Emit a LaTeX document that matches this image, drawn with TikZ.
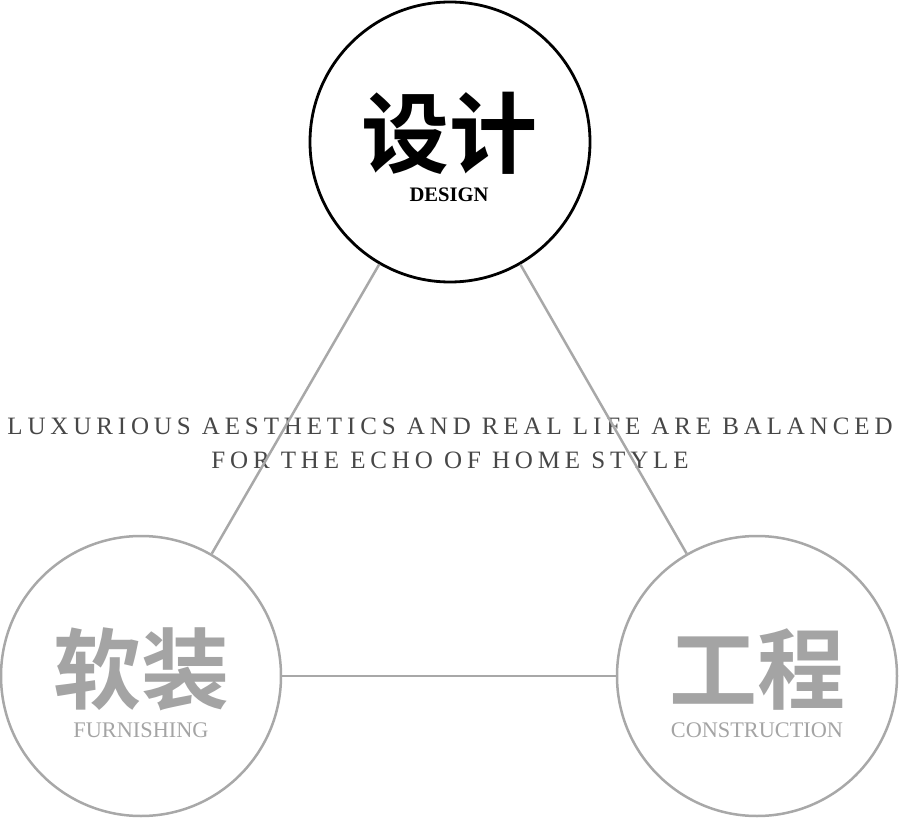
\documentclass[tikz,border=0pt]{standalone}
\usepackage{fontspec}
\setmainfont{Liberation Serif}
\newfontfamily\cjkbold{Noto Sans CJK SC Bold}
\newfontfamily\spaced[LetterSpace=19.5]{Liberation Serif}
\definecolor{ringgray}{HTML}{A8A8A8}
\definecolor{labgray}{HTML}{A4A4A4}
\definecolor{textgray}{HTML}{474747}
\begin{document}
\begin{tikzpicture}[x=1pt,y=-1pt,
  ring/.style={circle,draw=ringgray,line width=2.5pt,minimum size=280pt,inner sep=0pt},
  mainring/.style={ring,draw=black,line width=2.8pt},
  link/.style={draw=ringgray,line width=2.5pt},
  cjklab/.style={inner sep=0pt,anchor=base,font=\cjkbold\fontsize{88}{90}\selectfont},
  enlab/.style={inner sep=0pt,anchor=base,font=\fontsize{22.3}{24}\selectfont},
  slogan/.style={inner sep=0pt,anchor=base,text=textgray,font=\spaced\fontsize{25}{27}\selectfont}]
\useasboundingbox (0,0) rectangle (900,818);
\node[mainring] (top) at (450,142) {};
\node[ring] (fur) at (141,676) {};
\node[ring] (con) at (757,676) {};
\node[slogan] (s1) at (450,434) {LUXURIOUS AESTHETICS AND REAL LIFE ARE BALANCED};
\node[slogan] (s2) at (450,468) {FOR THE ECHO OF HOME STYLE};
\draw[link] (top) -- (fur);
\draw[link] (top) -- (con);
\draw[link] (fur) -- (con);
\node[cjklab,text=black] (t1) at (449,167) {设计};
\node[enlab,font=\bfseries\fontsize{20.6}{22}\selectfont] (t2) at (449,202) {DESIGN};
\node[cjklab,text=labgray] (f1) at (141,702) {软装};
\node[enlab,text=labgray] (f2) at (141,737) {FURNISHING};
\node[cjklab,text=labgray] (c1) at (757,702) {工程};
\node[enlab,text=labgray] (c2) at (757,737) {CONSTRUCTION};
\end{tikzpicture}
\end{document}
